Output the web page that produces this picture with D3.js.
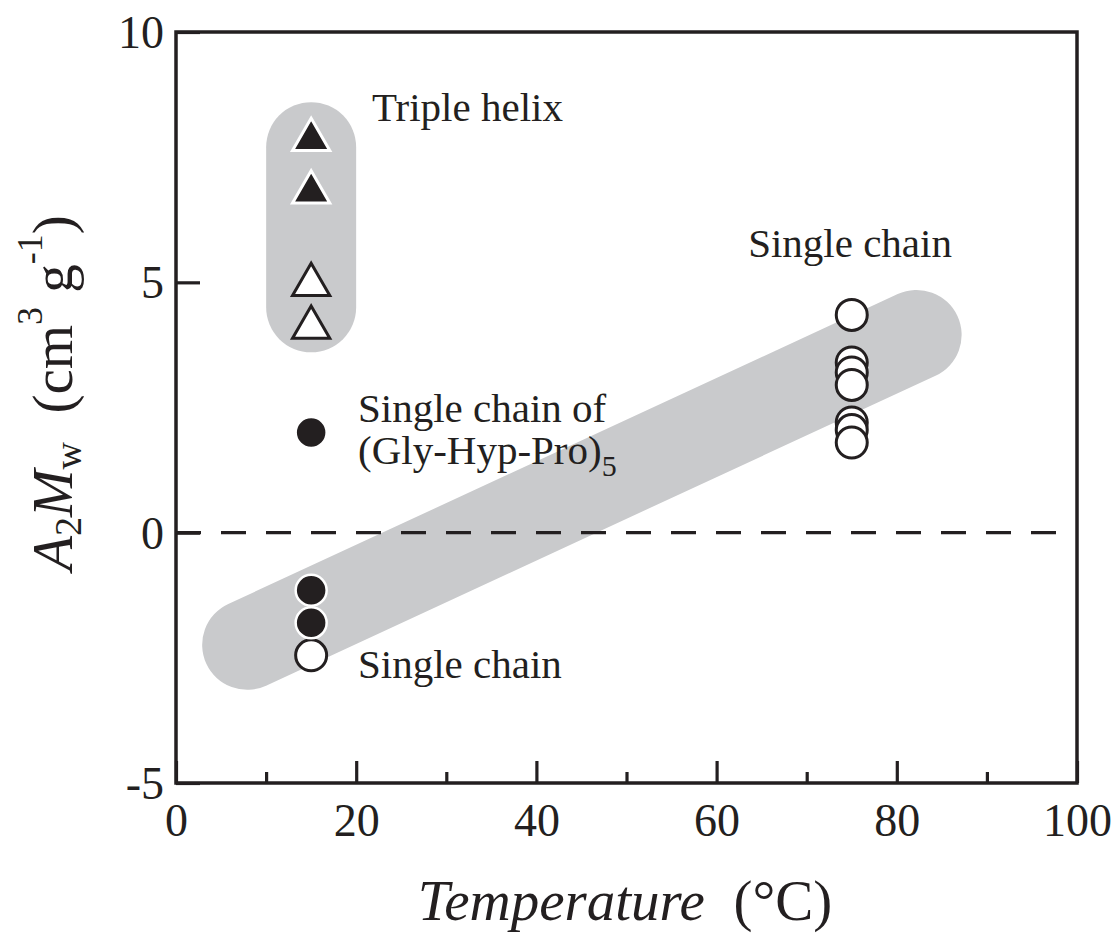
<!DOCTYPE html>
<html>
<head>
<meta charset="utf-8">
<script src="https://cdn.jsdelivr.net/npm/d3@7"></script>
<style>
  html, body { margin: 0; padding: 0; background: #fff; }
  svg { display: block; }
  text { font-family: "Liberation Serif", "Times New Roman", serif; fill: #231f20; }
</style>
</head>
<body>
<svg id="chart" width="1120" height="936"></svg>
<script>
// Second virial coefficient term A2·Mw versus temperature
const xTicks = [0, 20, 40, 60, 80, 100];
const xMinorTicks = [10, 30, 50, 70, 90];
const yTicks = [-5, 0, 5, 10];

// Triple helix (x = 15 °C)
const tripleHelixFilled = [7.85, 6.8];
const tripleHelixOpen = [4.95, 4.1];
// Single chain of (Gly-Hyp-Pro)5
const glyHypProFilled = [2.0];
// Single chain at 15 °C
const singleLowFilled = [-1.15, -1.8];
const singleLowOpen = [-2.45];
// Single chain at 75 °C
const singleHighOpen = [4.35, 3.4, 3.2, 2.95, 2.2, 2.05, 1.8];

const tempLow = 15;
const tempHigh = 75;

// Shaded guide bands: [x1, y1, x2, y2] in data units
const helixBand = [15, 7.7, 15, 4.5];
const singleBand = [7.9, -2.24, 82.2, 3.95];

const svg = d3.select("#chart");
const x = d3.scaleLinear().domain([0, 100]).range([176, 1077]);
const y = d3.scaleLinear().domain([-5, 10]).range([783, 32]);

const ink = "#231f20";
const grey = "#c9cacc";

// Shaded bands
const bandG = svg.append("g");
[helixBand, singleBand].forEach(b => {
  bandG.append("line")
    .attr("x1", x(b[0])).attr("y1", y(b[1]))
    .attr("x2", x(b[2])).attr("y2", y(b[3]))
    .attr("stroke", grey).attr("stroke-width", 90)
    .attr("stroke-linecap", "round");
});

// Zero reference line
svg.append("line")
  .attr("x1", x(0)).attr("x2", x(100))
  .attr("y1", y(0)).attr("y2", y(0))
  .attr("stroke", ink).attr("stroke-width", 3.2)
  .attr("stroke-dasharray", "25,20");

// Axes
const tickFont = 46;
const plainNum = d => String(d);
const xAxis = svg.append("g")
  .attr("transform", `translate(0,${y(-5)})`)
  .call(d3.axisBottom(x).tickValues(xTicks).tickFormat(plainNum)
    .tickSizeInner(-22).tickSizeOuter(0).tickPadding(20));
const xMinor = svg.append("g")
  .attr("transform", `translate(0,${y(-5)})`)
  .call(d3.axisBottom(x).tickValues(xMinorTicks).tickFormat("")
    .tickSizeInner(-11).tickSizeOuter(0));
const yAxis = svg.append("g")
  .attr("transform", `translate(${x(0)},0)`)
  .call(d3.axisLeft(y).tickValues(yTicks).tickFormat(plainNum)
    .tickSizeInner(-24).tickSizeOuter(0).tickPadding(12));

[xAxis, xMinor, yAxis].forEach(g => {
  g.select(".domain").remove();
  g.selectAll(".tick line").attr("stroke", ink).attr("stroke-width", 3.2);
  g.selectAll(".tick text")
    .attr("fill", ink)
    .style("font-family", '"Liberation Serif", "Times New Roman", serif')
    .style("font-size", tickFont + "px");
});
yAxis.selectAll(".tick text").attr("dy", "0.34em");

// Frame
svg.append("rect")
  .attr("x", x(0)).attr("y", y(10))
  .attr("width", x(100) - x(0)).attr("height", y(-5) - y(10))
  .attr("fill", "none").attr("stroke", ink).attr("stroke-width", 3.5);

// Markers
const R = 15.5;
const tri = d3.symbol().type(d3.symbolTriangle).size(600);
const marks = svg.append("g");

function openCircles(t, vals) {
  marks.selectAll(null).data(vals).enter().append("circle")
    .attr("cx", x(t)).attr("cy", d => y(d)).attr("r", R)
    .attr("fill", "#fff").attr("stroke", ink).attr("stroke-width", 3);
}
function filledCircles(t, vals) {
  marks.selectAll(null).data(vals).enter().append("circle")
    .attr("cx", x(t)).attr("cy", d => y(d)).attr("r", R)
    .attr("fill", ink).attr("stroke", "#fff").attr("stroke-width", 2.5);
}
function triangles(t, vals, filled) {
  marks.selectAll(null).data(vals).enter().append("path")
    .attr("d", tri)
    .attr("transform", d => `translate(${x(t)},${y(d)})`)
    .attr("fill", filled ? ink : "#fff")
    .attr("stroke", filled ? "#fff" : ink)
    .attr("stroke-width", 3)
    .attr("stroke-linejoin", "miter");
}

triangles(tempLow, tripleHelixFilled, true);
triangles(tempLow, tripleHelixOpen, false);
filledCircles(tempLow, glyHypProFilled);
openCircles(tempLow, singleLowOpen);
filledCircles(tempLow, singleLowFilled);
openCircles(tempHigh, singleHighOpen);

// Annotations
const noteFont = 41;
function note(tx, ty, str) {
  return svg.append("text")
    .attr("x", x(tx)).attr("y", y(ty))
    .style("font-size", noteFont + "px")
    .text(str);
}
note(21.75, 8.22, "Triple helix");
note(63.5, 5.5, "Single chain");
note(20.2, 2.21, "Single chain of");
const gly = note(20.2, 1.37, "(Gly-Hyp-Pro)");
gly.append("tspan").attr("dy", 12).style("font-size", "30px").text("5");
note(20.2, -2.9, "Single chain");

// Axis titles
const titleFont = 57;
const xt = svg.append("text")
  .attr("x", 625).attr("y", 920)
  .attr("text-anchor", "middle")
  .style("font-size", titleFont + "px");
xt.append("tspan").style("font-style", "italic").text("Temperature");
xt.append("tspan").text("\u00a0 (°C)");

const yt = svg.append("text")
  .attr("transform", "translate(72,393) rotate(-90)")
  .attr("text-anchor", "middle")
  .style("font-size", titleFont + "px");
yt.append("tspan").style("font-style", "italic").text("A");
yt.append("tspan").attr("dy", 9).style("font-size", "38px").text("2");
yt.append("tspan").attr("dy", -9).style("font-style", "italic").text("M");
yt.append("tspan").attr("dy", 9).style("font-size", "38px").text("w");
yt.append("tspan").attr("dy", -9).text("\u00a0\u00a0(cm");
yt.append("tspan").attr("dy", -30).style("font-size", "36px").text("3");
yt.append("tspan").attr("dy", 30).text("\u00a0g");
yt.append("tspan").attr("dy", -30).style("font-size", "36px").text("-1");
yt.append("tspan").attr("dy", 30).text(")");
</script>
</body>
</html>
